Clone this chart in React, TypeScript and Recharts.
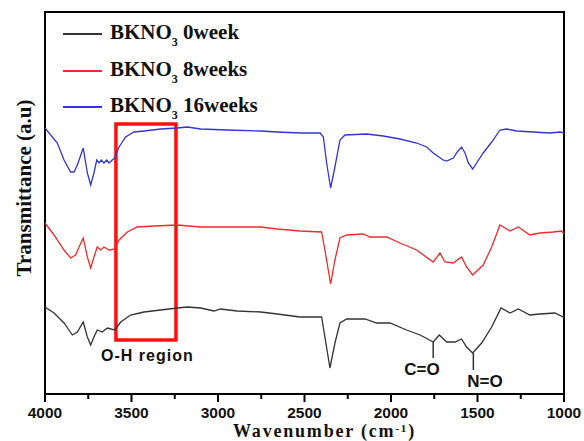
import React from 'react'
import {
  ComposedChart, Line, XAxis, YAxis, Legend, ReferenceArea, ReferenceLine, ReferenceDot, Label,
} from 'recharts'

// wavenumber (cm-1) and transmittance (a.u., offset per sample)
const blackWn = [4000, 3948, 3890, 3842, 3813, 3779, 3755, 3736, 3717, 3698, 3669, 3640, 3597, 3562, 3505, 3428, 3331, 3235, 3177, 3100, 3023, 2985, 2889, 2753, 2657, 2526, 2401, 2382, 2353, 2324, 2295, 2256, 2150, 2083, 2006, 1910, 1832, 1756, 1721, 1678, 1630, 1592, 1563, 1528, 1476, 1418, 1364, 1312, 1264, 1197, 1139, 1053, 1004, 1000]
const blackT = [87, 81, 71, 59, 62, 72, 57, 49, 57, 64, 62, 66, 64, 72, 79, 82, 84, 86, 87, 86, 83, 85, 83, 82, 80, 77, 77, 57, 26, 51, 71, 75, 75, 71, 71, 64, 59, 52, 59, 52, 52, 55, 47, 41, 51, 67, 86, 81, 85, 79, 80, 81, 77, 77]

const redWn = [4000, 3948, 3890, 3852, 3823, 3803, 3779, 3755, 3736, 3717, 3698, 3678, 3659, 3630, 3597, 3572, 3524, 3467, 3370, 3235, 3100, 2946, 2753, 2657, 2526, 2401, 2382, 2349, 2324, 2295, 2256, 2160, 2122, 2025, 1948, 1852, 1756, 1717, 1688, 1640, 1592, 1563, 1528, 1467, 1418, 1370, 1312, 1264, 1197, 1139, 1062, 1014, 1000]
const redT = [171, 159, 144, 136, 139, 147, 156, 137, 126, 137, 147, 144, 147, 144, 145, 154, 162, 167, 168, 169, 167, 167, 167, 165, 163, 162, 144, 110, 134, 156, 159, 160, 157, 157, 151, 144, 132, 141, 132, 131, 137, 127, 119, 129, 147, 169, 163, 167, 159, 161, 162, 163, 160]

const blueWn = [4000, 3929, 3890, 3852, 3832, 3813, 3779, 3755, 3736, 3717, 3701, 3688, 3675, 3659, 3643, 3630, 3611, 3597, 3572, 3534, 3486, 3428, 3331, 3235, 3177, 3100, 2946, 2753, 2657, 2526, 2410, 2391, 2372, 2349, 2324, 2295, 2266, 2141, 2045, 1948, 1852, 1794, 1756, 1698, 1678, 1640, 1617, 1592, 1572, 1553, 1528, 1505, 1467, 1418, 1370, 1332, 1274, 1178, 1081, 1023, 1000]
const blueT = [266, 251, 234, 222, 222, 229, 246, 221, 209, 221, 234, 231, 234, 231, 234, 231, 234, 236, 247, 257, 262, 263, 265, 266, 267, 265, 264, 263, 262, 261, 261, 257, 231, 206, 227, 254, 259, 260, 258, 255, 251, 247, 241, 234, 233, 236, 242, 247, 241, 231, 225, 231, 241, 252, 264, 265, 263, 262, 261, 262, 261]

const xTicks = [4000, 3750, 3500, 3250, 3000, 2750, 2500, 2250, 2000, 1750, 1500, 1250, 1000]

// O-H box (wavenumber range, transmittance range)
const ohBoxX = [3590, 3243]
const ohBoxY = [54, 270]
// band markers: [wavenumber, top of marker, bottom of marker]
const bandMarks = [
  { name: 'C=O', wn: 1756, from: 52, to: 36, labelWn: 1821, labelY: 25 },
  { name: 'N=O', wn: 1524, from: 41, to: 24, labelWn: 1457, labelY: 13 },
]

const zip = (wn: number[], t: number[]) => wn.map((w, i) => ({ wn: w, t: t[i] }))

const series = [
  { key: 'w0', label: '0week', color: '#333333', data: zip(blackWn, blackT) },
  { key: 'w8', label: '8weeks', color: '#ee2b2b', data: zip(redWn, redT) },
  { key: 'w16', label: '16weeks', color: '#3434d4', data: zip(blueWn, blueT) },
]

const serif = '"Liberation Serif", "Times New Roman", serif'
const sans = '"Liberation Sans", Arial, sans-serif'

function AxisTick({ x, y, payload }: any) {
  const major = payload.value % 500 === 0
  return (
    <g>
      <line x1={x} x2={x} y1={y} y2={y + (major ? 8 : 5)} stroke="#000" strokeWidth={2} />
      {major && (
        <text x={x} y={y + 24} textAnchor="middle" fontFamily={sans} fontWeight="bold" fontSize={15.5} fill="#111">
          {payload.value}
        </text>
      )}
    </g>
  )
}

// legend drawn in series order (black, red, blue)
function LegendBox() {
  return (
    <div>
      {series.map((s) => (
        <div key={s.key} style={{ display: 'flex', alignItems: 'center', height: 36.5 }}>
          <div style={{ width: 39, height: 2, background: s.color, marginRight: 8 }} />
          <span style={{ fontFamily: serif, fontWeight: 'bold', fontSize: 21, color: '#111', lineHeight: '21px', whiteSpace: 'nowrap' }}>
            BKNO<span style={{ fontSize: 12, position: 'relative', top: 7 }}>3</span> {s.label}
          </span>
        </div>
      ))}
    </div>
  )
}

const xLabel = (p: any) => {
  const vb = p.viewBox
  return (
    <text x={vb.x + vb.width / 2 + 20} y={vb.y + 43} textAnchor="middle" fontFamily={serif} fontWeight="bold" fontSize={18} letterSpacing={1.8} fill="#111">
      Wavenumber (cm<tspan dy={-5} fontSize={11}>-1</tspan><tspan dy={5}>)</tspan>
    </text>
  )
}

const yLabel = () => (
  <text x={31} y={188} transform="rotate(-90, 31, 188)" textAnchor="middle" fontFamily={serif} fontWeight="bold" fontSize={21} fill="#111">
    Transmittance (a.u)
  </text>
)

export default function App() {
  return (
    <div style={{ position: 'absolute', left: 0, top: 0, width: 584, height: 441, background: '#fff' }}>
      <ComposedChart width={584} height={441} margin={{ top: 12, right: 20, bottom: 0, left: 0 }}>
        <XAxis
          type="number"
          dataKey="wn"
          domain={[1000, 4000]}
          reversed
          ticks={xTicks}
          interval={0}
          tick={<AxisTick />}
          tickSize={0}
          tickMargin={0}
          tickLine={false}
          axisLine={false}
          height={47}
          label={<Label content={xLabel} />}
        />
        <YAxis
          type="number"
          domain={[0, 382]}
          width={45}
          tick={false}
          tickLine={false}
          axisLine={false}
          label={<Label content={yLabel} />}
        />
        <Legend
          layout="vertical"
          align="center"
          verticalAlign="middle"
          wrapperStyle={{ left: 63, top: 16, width: 'auto', height: 'auto' }}
          content={<LegendBox />}
        />
        {series.map((s) => (
          <Line
            key={s.key}
            data={s.data}
            dataKey="t"
            name={s.label}
            type="linear"
            stroke={s.color}
            strokeWidth={1.3}
            dot={false}
            activeDot={false}
            isAnimationActive={false}
          />
        ))}
        <ReferenceArea x1={ohBoxX[0]} x2={ohBoxX[1]} y1={ohBoxY[0]} y2={ohBoxY[1]} fill="none" stroke="#ff1010" strokeWidth={3.5} />
        {bandMarks.map((b) => (
          <ReferenceLine
            key={b.name}
            segment={[{ x: b.wn, y: b.from }, { x: b.wn, y: b.to }]}
            stroke="#333"
            strokeWidth={1.5}
          />
        ))}
        {bandMarks.map((b) => (
          <ReferenceDot
            key={b.name + 'l'}
            x={b.labelWn}
            y={b.labelY}
            r={0}
            fill="none"
            stroke="none"
            label={{ value: b.name, position: 'center', fontFamily: sans, fontWeight: 'bold', fontSize: 17, fill: '#111' }}
          />
        ))}
        <ReferenceDot
          x={3408}
          y={39}
          r={0}
          fill="none"
          stroke="none"
          label={{ value: 'O-H region', position: 'center', fontFamily: sans, fontWeight: 'bold', fontSize: 16, letterSpacing: 1, fill: '#111' }}
        />
        <ReferenceArea x1={4000} x2={1000} y1={0} y2={382} fill="none" stroke="#000" strokeWidth={2} />
      </ComposedChart>
    </div>
  )
}
